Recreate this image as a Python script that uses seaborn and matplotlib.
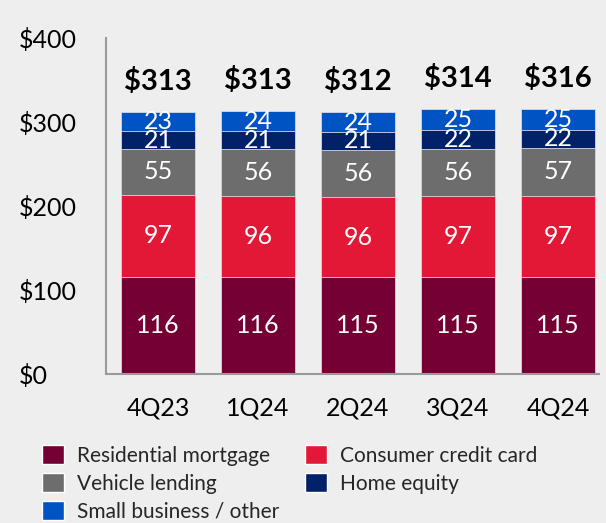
import matplotlib
matplotlib.use("Agg")
import matplotlib.pyplot as plt
import seaborn as sns
import numpy as np
import pandas as pd
from matplotlib.patches import Patch

quarters = ["4Q23", "1Q24", "2Q24", "3Q24", "4Q24"]
residential = [116, 116, 115, 115, 115]
credit_card = [97, 96, 96, 97, 97]
vehicle = [55, 56, 56, 56, 57]
home_equity = [21, 21, 21, 22, 22]
small_business = [23, 24, 24, 25, 25]
totals = [313, 313, 312, 314, 316]
series_names = ["Residential mortgage", "Consumer credit card", "Vehicle lending",
                "Home equity", "Small business / other"]
yticks = [0, 100, 200, 300, 400]
ytick_labels = ["$0", "$100", "$200", "$300", "$400"]

colors = ["#750033", "#E31837", "#6D6D6D", "#012169", "#0053C2"]
bg = "#EEEEEE"

sns.set_style("white")
plt.rcParams["font.family"] = ["Lato", "DejaVu Sans"]

fig = plt.figure(figsize=(6.06, 5.23), dpi=100, facecolor=bg)
ax = fig.add_axes([106/606, 1-374/523, (599-106)/606, (374-38)/523])
ax.set_facecolor(bg)

series = [residential, credit_card, vehicle, home_equity, small_business]
cum = np.cumsum(np.array(series), axis=0)

# Draw from top of stack down so lower segments overlay
for i in range(len(series) - 1, -1, -1):
    df = pd.DataFrame({"q": quarters, "v": cum[i]})
    sns.barplot(data=df, x="q", y="v", color=colors[i], ax=ax, width=0.74,
                saturation=1, edgecolor="#D8D8E8", linewidth=0.6)

for j in range(len(quarters)):
    for i in range(len(series)):
        base = cum[i][j] - series[i][j]
        ax.text(j, base + series[i][j] / 2, str(series[i][j]), ha="center",
                va="center", color="white", fontsize=18)
    ax.annotate(f"${totals[j]}", (j, cum[-1][j]), xytext=(0, 22),
                textcoords="offset points", ha="center", va="center",
                fontsize=21, fontweight="bold", color="black")

ax.set_xlim(-0.52, 4.41)
ax.set_ylim(0, 400)
ax.set_yticks(yticks)
ax.set_yticklabels(ytick_labels)
ax.set_xlabel("")
ax.set_ylabel("")
ax.tick_params(axis="both", length=0, labelsize=18, colors="black")
ax.tick_params(axis="y", pad=63)
ax.tick_params(axis="x", pad=16)
for lab in ax.get_yticklabels():
    lab.set_horizontalalignment("left")
ax.spines["top"].set_visible(False)
ax.spines["right"].set_visible(False)
ax.spines["left"].set_color("#9A9A9A")
ax.spines["bottom"].set_color("#9A9A9A")
ax.spines["left"].set_linewidth(1.5)
ax.spines["bottom"].set_linewidth(1.5)
ax.grid(False)

order = [0, 2, 4, 1, 3]
handles = [Patch(facecolor=colors[k], label=series_names[k]) for k in order]
fig.legend(handles=handles, ncol=2, loc="upper left",
           bbox_to_anchor=(38/606, 1-441/523), frameon=False, fontsize=15,
           handlelength=1.05, handleheight=1.05, handletextpad=0.62,
           columnspacing=1.25, labelspacing=0.34, borderaxespad=0,
           borderpad=0.2)

fig.savefig("out.png", dpi=100, facecolor=bg)
